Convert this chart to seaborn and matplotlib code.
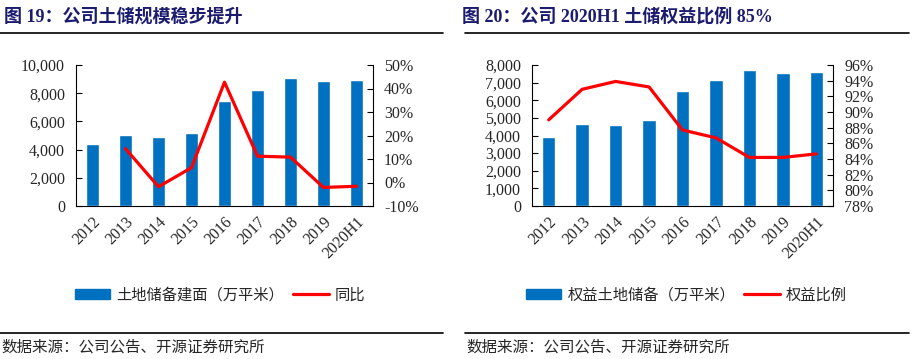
import numpy as np
import pandas as pd
import seaborn as sns
import matplotlib.pyplot as plt
from matplotlib.lines import Line2D

sns.set_style('white')
plt.rcParams['font.family'] = ['Liberation Serif', 'Noto Sans CJK SC']
plt.rcParams['axes.unicode_minus'] = False

years = ['2012', '2013', '2014', '2015', '2016', '2017', '2018', '2019', '2020H1']

# 图19: 土地储备建面 (万平米) 与同比
land_area = [4410, 5050, 4910, 5190, 7460, 8250, 9100, 8890, 8960]
land_yoy = [np.nan, 14.4, -1.8, 6.3, 42.7, 11.2, 10.8, -2.1, -1.6]

# 图20: 权益土地储备 (万平米) 与权益比例
equity_area = [3920, 4660, 4610, 4890, 6540, 7170, 7740, 7560, 7620]
equity_ratio = [89.0, 92.9, 93.9, 93.2, 87.7, 86.7, 84.2, 84.2, 84.65]

left_ticks = [0, 2000, 4000, 6000, 8000, 10000]
left_ticklabels = ['0', '2,000', '4,000', '6,000', '8,000', '10,000']
left_pct = [-10, 0, 10, 20, 30, 40, 50]
right_ticks = [0, 1000, 2000, 3000, 4000, 5000, 6000, 7000, 8000]
right_ticklabels = ['0', '1,000', '2,000', '3,000', '4,000', '5,000', '6,000', '7,000', '8,000']
right_pct = [78, 80, 82, 84, 86, 88, 90, 92, 94, 96]

BLUE = '#0070C0'
RED = '#FF0000'
NAVY = '#1B1B6F'
FS = 11.5


def draw_panel(fig, rect, bars, line, yticks, yticklabels, pticks, bar_label, line_label,
               title, title_x, rule_x, legend_x):
    ax = fig.add_axes(rect)
    df = pd.DataFrame({'year': years, 'value': bars, 'pos': np.arange(len(years)), 'pct': line})
    sns.barplot(data=df, x='year', y='value', color=BLUE, width=0.4, saturation=1, ax=ax)
    ax.set_xlim(-0.5, len(years) - 0.5)
    ax.set_ylim(yticks[0], yticks[-1])
    ax.set_yticks(yticks)
    ax.set_yticklabels(yticklabels, fontsize=FS)
    ax.set_xlabel('')
    ax.set_ylabel('')
    ax.set_xticks(np.arange(len(years)))
    ax.set_xticklabels(years, rotation=45, ha='right', rotation_mode='anchor', fontsize=FS)
    ax.set_xticks(np.arange(len(years) + 1) - 0.5, minor=True)
    ax.tick_params(axis='x', which='major', length=0, pad=6)
    ax.tick_params(axis='x', which='minor', direction='in', length=4, width=0.8, color='black')
    ax.tick_params(axis='y', direction='in', length=4, width=0.8, color='black', left=True, pad=8)
    for s in ['top', 'right']:
        ax.spines[s].set_visible(False)
    for s in ['left', 'bottom']:
        ax.spines[s].set_color('black')
        ax.spines[s].set_linewidth(0.8)

    ax2 = ax.twinx()
    sns.lineplot(data=df.dropna(), x='pos', y='pct', color=RED, linewidth=2.3, ax=ax2)
    ax2.set_xlim(-0.5, len(years) - 0.5)
    ax2.set_ylim(pticks[0], pticks[-1])
    ax2.set_yticks(pticks)
    ax2.set_yticklabels([f'{p}%' for p in pticks], fontsize=FS)
    ax2.set_ylabel('')
    ax2.tick_params(axis='y', direction='in', length=4, width=0.8, color='black', right=True, pad=8)
    for s in ['top', 'left', 'bottom']:
        ax2.spines[s].set_visible(False)
    ax2.spines['right'].set_color('black')
    ax2.spines['right'].set_linewidth(0.8)

    handles = [plt.Rectangle((0, 0), 1, 1, color=BLUE),
               Line2D([0], [0], color=RED, linewidth=2.3)]
    fig.legend(handles, [bar_label, line_label], loc='center', bbox_to_anchor=(legend_x, 0.178),
               ncol=2, frameon=False, fontsize=11, handlelength=2.3, handleheight=0.65,
               columnspacing=0.6, handletextpad=0.4)

    fig.text(title_x, 0.953, title, fontsize=13, fontweight='bold', color=NAVY, va='center')
    fig.add_artist(Line2D(rule_x, [0.908, 0.908], color='black', linewidth=1.2))
    fig.add_artist(Line2D(rule_x, [0.073, 0.073], color='black', linewidth=1.2))
    fig.text(rule_x[0] + 0.001, 0.033, '数据来源：公司公告、开源证券研究所', fontsize=11.2, va='center')


fig = plt.figure(figsize=(9.14, 3.59), dpi=100)

draw_panel(fig, [76 / 914, 153 / 359, 297 / 914, 141 / 359], land_area, land_yoy,
           left_ticks, left_ticklabels, left_pct, '土地储备建面（万平米）', '同比',
           '图 19：公司土储规模稳步提升', 0.004, [0.0, 0.485], 0.241)
draw_panel(fig, [532 / 914, 153 / 359, 301 / 914, 141 / 359], equity_area, equity_ratio,
           right_ticks, right_ticklabels, right_pct, '权益土地储备（万平米）', '权益比例',
           '图 20：公司 2020H1 土储权益比例 85%', 0.506, [0.509, 0.994], 0.751)

fig.savefig('out.png', dpi=100)
